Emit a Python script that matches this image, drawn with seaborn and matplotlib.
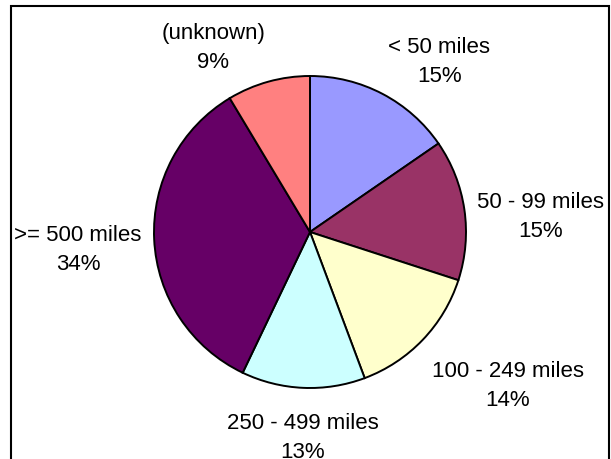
import numpy as np
import seaborn as sns
import matplotlib.pyplot as plt
from matplotlib.patches import Rectangle

# slices, clockwise from 12 o'clock
categories = ['< 50 miles', '50 - 99 miles', '100 - 249 miles',
              '250 - 499 miles', '>= 500 miles', '(unknown)']
shares = [15.4, 14.6, 14.3, 12.8, 34.3, 8.6]
colors = ['#9999FF', '#993366', '#FFFFCC', '#CCFFFF', '#660066', '#FF8080']


def label_align(angle):
    """Excel-like alignment of a data label placed at angle (degrees)"""
    c, s = np.cos(np.radians(angle)), np.sin(np.radians(angle))
    ha = 'left' if c > 0.1 else ('right' if c < -0.1 else 'center')
    va = 'bottom' if s > 0.5 else ('top' if s < -0.5 else 'center')
    return c, s, ha, va


sns.set_theme(style='white')
plt.rcParams['font.family'] = ['Liberation Sans', 'DejaVu Sans']

W, H = 611, 459
cx, cy, r = 310, 232, 156  # pie centre / radius in pixels

fig = plt.figure(figsize=(W / 100, H / 100), dpi=100)
ax = fig.add_axes([0, 0, 1, 1])

wedges, _ = ax.pie(shares, colors=colors, startangle=90, counterclock=False,
                   radius=1.0, wedgeprops=dict(edgecolor='black', linewidth=1.4))

# pie() resets the limits, so set them afterwards
ax.set_aspect('auto')
ax.set_xlim(-cx / r, (W - cx) / r)
ax.set_ylim(-(H - cy) / r, cy / r)
ax.axis('off')

# small downward shift of the label boxes, Excel style
nudge = {'bottom': -2.75, 'center': -7., 'top': -9.}

# data labels outside the pie
for w, cat, v in zip(wedges, categories, shares):
    mid = (w.theta1 + w.theta2) / 2.
    c, s, ha, va = label_align(mid)
    d = 1.08
    ax.annotate(cat + '\n' + str(round(v)) + '%', xy=(d * c, d * s),
                xytext=(0, nudge[va]), textcoords='offset points',
                ha=ha, va=va, multialignment='center', fontsize=16,
                linespacing=1.5, color='black')

# chart border
fig.patches.append(Rectangle((11 / W, -0.05), 598 / W, 1 - 6 / H + 0.05,
                             transform=fig.transFigure, fill=False,
                             edgecolor='black', linewidth=1.5))

fig.savefig('out.png', dpi=100)
